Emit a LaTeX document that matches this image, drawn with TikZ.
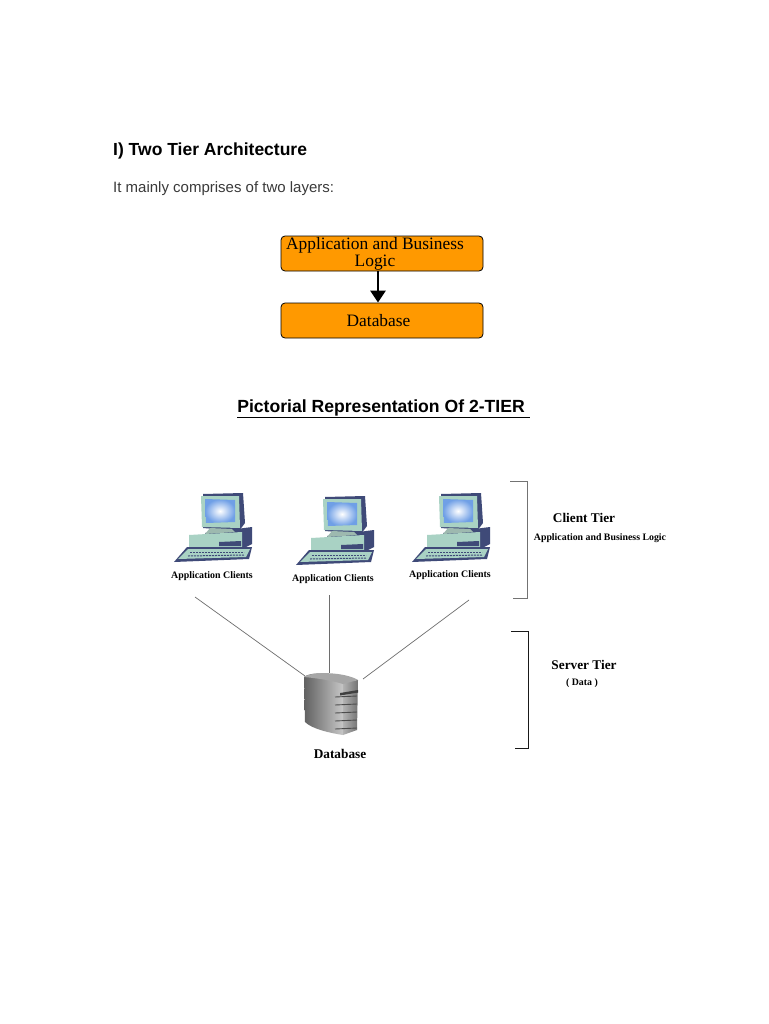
\documentclass[tikz,border=0pt]{standalone}
\usepackage{fontspec}
\setmainfont{Liberation Serif}
\newfontfamily\headfont{Liberation Sans}
\usepackage{xcolor}
\usepackage{tikz}
\usetikzlibrary{arrows.meta}
\definecolor{orangebox}{HTML}{FF9900}
\definecolor{pcdark}{HTML}{3F4A78}
\definecolor{pcface}{HTML}{A9D2C4}
\definecolor{pcscreen}{HTML}{6F9FE6}
\definecolor{bodytxt}{HTML}{3A3A3A}
\definecolor{linkgray}{HTML}{6E6E6E}
\tikzset{
  layerbox/.style={draw=black, fill=orangebox, rounded corners=4pt, line width=0.8pt,
    minimum width=202pt, minimum height=35pt, inner sep=0pt, align=center,
    font=\fontsize{17.4}{17}\selectfont},
  link/.style={draw=linkgray, line width=0.7pt},
  bracket/.style={line width=0.9pt},
  pclabel/.style={font=\fontsize{9.9}{11}\selectfont\bfseries, inner sep=0pt},
  tierlabel/.style={font=\fontsize{13.3}{14}\selectfont\bfseries, inner sep=0pt},
  tiernote/.style={font=\fontsize{9.85}{11}\selectfont\bfseries, inner sep=0pt}
}
\newcommand{\ClientPc}[2]{%
  \begin{scope}[shift={(#1,#2)}]
    \fill[pcdark] (43,14) -- (83,13) -- (85,43) -- (79,51) -- (43,48) -- cycle;
    \fill[pcface] (41,16) -- (79,16) -- (80,48) -- (42,47) -- cycle;
    \shade[inner color=white, outer color=pcscreen] (45,19) -- (75,20) -- (75,42) -- (46,43) -- cycle;
    \fill[pcdark] (45,53) -- (92,47) -- (92,64) -- (82,69) -- (45,69) -- cycle;
    \fill[pcface!70!gray] (50,48) -- (72,49) -- (75,52) -- (45,54) -- cycle;
    \fill[pcface] (29,55) -- (82,52) -- (82,67) -- (29,68) -- cycle;
    \fill[pcdark] (59,62) -- (81,61) -- (81,66) -- (59,66) -- cycle;
    \fill[pcdark] (14,82) -- (27,67) -- (92,67) -- (89,79) -- cycle;
    \fill[pcface] (18,79) -- (28,69) -- (90,69) -- (86,77) -- cycle;
    \draw[pcdark, line width=1pt, dash pattern=on 2pt off 1pt] (30,72) -- (84,72);
    \draw[pcdark, line width=1pt, dash pattern=on 2pt off 1pt] (28,76) -- (84,75);
  \end{scope}
}

\begin{document}
\begin{tikzpicture}[x=1pt,y=-1pt]
  \useasboundingbox[fill=white] (0,0) rectangle (768,1024);

  \node[anchor=west, inner sep=0pt, font=\headfont\fontsize{17.5}{18}\selectfont\bfseries] (heading) at (113,151) {I) Two Tier Architecture};
  \node[anchor=west, inner sep=0pt, text=bodytxt, font=\headfont\fontsize{15}{16}\selectfont] (intro) at (113,189) {It mainly comprises of two layers:};

  \node[layerbox] (logic) at (382,253.5) {Application and Business\kern14pt\\Logic\kern14pt};
  \node[layerbox] (dbbox) at (382,320.5) {Database\kern7pt};
  \draw[-{Triangle[length=12pt,width=15pt]}, line width=2.8pt] ([xshift=-4pt]logic.south) -- ([xshift=-4pt]dbbox.north);

  \node[inner sep=0pt, font=\headfont\fontsize{17.6}{18}\selectfont\bfseries] (title) at (383.5,409) {\underline{Pictorial Representation Of 2-TIER\ }};

  \ClientPc{160}{480}
  \ClientPc{282}{483}
  \ClientPc{398}{480}
  \node[pclabel] (clientA) at (212,576) {Application Clients};
  \node[pclabel] (clientB) at (333,579) {Application Clients};
  \node[pclabel] (clientC) at (450,575) {Application Clients};

  \coordinate (linkA) at (195,597);
  \coordinate (linkB) at (329,595);
  \coordinate (linkC) at (469,600);
  \coordinate (dbA) at (305,676);
  \coordinate (dbB) at (329,673);
  \coordinate (dbC) at (363,679);
  \draw[link] (linkA) -- (dbA);
  \draw[link] (linkB) -- (dbB);
  \draw[link] (linkC) -- (dbC);

  \shade[left color=black!62, right color=black!22] (304,677) .. controls (309,672) and (335,671) .. (343,682) -- (343,735) .. controls (330,733) and (312,729) .. (305,722) -- cycle;
  \shade[left color=black!30, right color=black!55] (343,682) -- (358,680) -- (357,730) -- (343,735) -- cycle;
  \fill[black!35] (304,677) .. controls (312,671) and (345,672) .. (358,680) -- (343,684) .. controls (330,680) and (315,678) .. (304,677) -- cycle;
  \foreach \sy in {697,705,713,721,729}
    \draw[black!70, line width=0.9pt] (335,\sy) -- (357,\sy-1);
  \fill[black!75] (340,693) -- (358,690) -- (358,692.5) -- (340,695.5) -- cycle;
  \node[tierlabel] (dblabel) at (340,754) {Database};

  \draw[bracket, draw=black!55] (510,481) -- (527,481) -- (527,598) -- (513,598);
  \draw[bracket, draw=black!90] (511,631) -- (528,631) -- (528,748) -- (515,748);
  \node[tierlabel] (clienttier) at (584,518) {Client Tier};
  \node[tiernote] (clientnote) at (600,538) {Application and Business Logic};
  \node[tierlabel] (servertier) at (584,665) {Server Tier};
  \node[tiernote] (servernote) at (582,683) {( Data )};
\end{tikzpicture}
\end{document}
